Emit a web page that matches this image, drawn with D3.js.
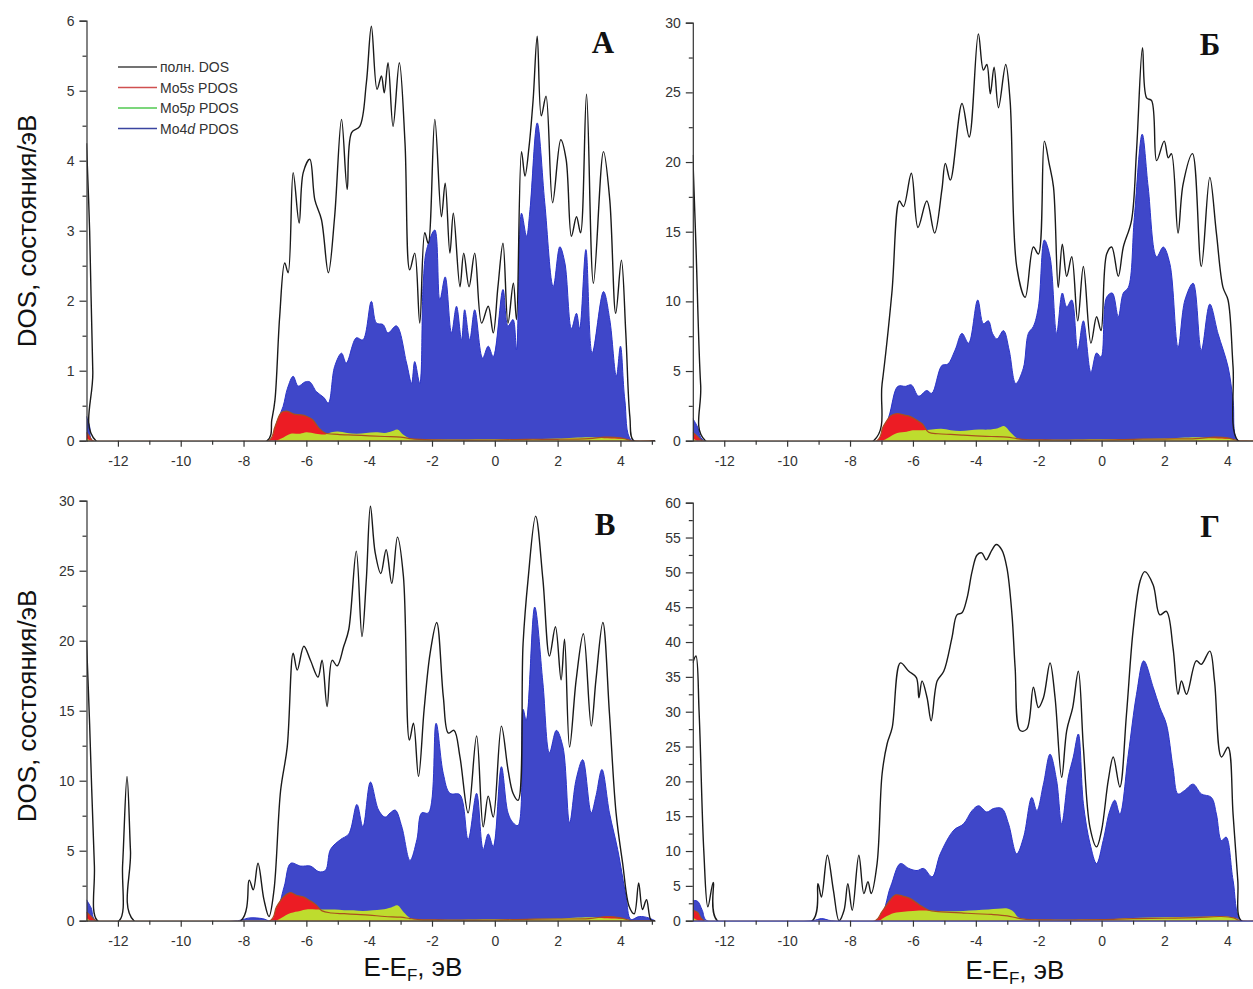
<!DOCTYPE html>
<html>
<head>
<meta charset="utf-8">
<script src="https://cdn.jsdelivr.net/npm/d3@7"></script>
<style>
  body { margin: 0; background: #fff; }
  svg text { font-family: "Liberation Sans", Arial, sans-serif; }
</style>
</head>
<body>
<svg id="chart" width="1253" height="989"></svg>
<script>
// ---- data: [E - E_F (eV), DOS (states/eV)] ----

// panel A
const totalA = [[-13.0,4.25],[-12.9,3.0],[-12.8,1.0],[-12.7,0],[-7.25,0],[-7.1,0.3],[-7.0,0.58],[-6.85,1.77],[-6.69,2.54],[-6.58,2.4],[-6.42,3.83],[-6.23,3.11],[-6.1,3.83],[-5.89,4.02],[-5.73,3.44],[-5.52,3.16],[-5.3,2.4],[-5.1,3.2],[-4.88,4.59],[-4.7,3.59],[-4.56,4.4],[-4.3,4.49],[-4.09,5.11],[-3.93,5.92],[-3.75,5.02],[-3.61,5.21],[-3.52,4.97],[-3.4,5.4],[-3.24,4.49],[-3.04,5.4],[-2.86,4.26],[-2.71,2.44],[-2.55,2.68],[-2.39,1.68],[-2.23,2.97],[-2.12,2.82],[-1.91,4.59],[-1.7,3.2],[-1.58,3.68],[-1.43,2.68],[-1.32,3.25],[-1.11,2.2],[-0.99,2.68],[-0.82,2.2],[-0.64,2.68],[-0.42,1.68],[-0.21,1.92],[-0.05,1.54],[0.1,2.2],[0.26,2.82],[0.42,1.68],[0.59,2.25],[0.69,1.73],[0.85,4.13],[0.96,3.78],[1.09,4.2],[1.22,4.87],[1.35,5.78],[1.48,4.64],[1.63,4.92],[1.84,3.4],[2.1,4.3],[2.27,4.02],[2.44,2.92],[2.6,3.2],[2.73,2.97],[2.92,4.95],[3.14,2.25],[3.46,4.13],[3.66,3.44],[3.85,1.82],[4.03,2.58],[4.17,1.54],[4.3,0.34],[4.42,0],[5.1,0]];
const d4A = [[-13.0,0.35],[-12.9,0.2],[-12.8,0],[-7.15,0],[-6.95,0.25],[-6.74,0.49],[-6.6,0.75],[-6.42,0.92],[-6.26,0.78],[-6.04,0.84],[-5.89,0.84],[-5.68,0.7],[-5.45,0.62],[-5.3,0.54],[-5.1,1.06],[-4.88,1.25],[-4.73,1.11],[-4.41,1.47],[-4.2,1.44],[-3.93,1.99],[-3.77,1.68],[-3.56,1.66],[-3.4,1.54],[-3.13,1.64],[-2.81,1.11],[-2.65,0.82],[-2.55,1.13],[-2.39,0.82],[-2.28,2.25],[-2.17,2.73],[-1.91,3.01],[-1.75,2.01],[-1.58,2.34],[-1.38,1.54],[-1.22,1.92],[-1.06,1.44],[-0.96,1.87],[-0.8,1.44],[-0.64,1.87],[-0.39,1.18],[-0.21,1.35],[-0.05,1.2],[0.26,2.16],[0.42,1.64],[0.58,1.73],[0.69,1.3],[0.85,3.25],[1.01,2.92],[1.12,3.3],[1.35,4.54],[1.59,3.4],[1.86,2.2],[2.07,2.77],[2.23,2.54],[2.44,1.6],[2.6,1.82],[2.7,1.6],[2.9,2.73],[3.1,1.25],[3.46,2.13],[3.66,1.73],[3.87,0.92],[4.0,1.35],[4.14,0.58],[4.36,0],[5.1,0]];
const s5A = [[-13.0,0.12],[-12.9,0.06],[-12.8,0],[-7.2,0],[-7.0,0.2],[-6.8,0.4],[-6.6,0.42],[-6.4,0.38],[-6.2,0.37],[-6.0,0.35],[-5.8,0.3],[-5.6,0.18],[-5.4,0.11],[-5.0,0.09],[-4.5,0.08],[-4.0,0.07],[-3.5,0.06],[-3.0,0.05],[-2.7,0.03],[-2.4,0.02],[-1.5,0.01],[0,0.01],[1,0.02],[2,0.02],[3,0.03],[3.5,0.05],[4.0,0.04],[4.2,0.02],[4.35,0],[5.1,0]];
const p5A = [[-13.0,0.04],[-12.85,0],[-7.0,0],[-6.8,0.03],[-6.5,0.1],[-6.2,0.1],[-6.0,0.12],[-5.7,0.1],[-5.4,0.09],[-5.2,0.12],[-5.0,0.13],[-4.7,0.11],[-4.4,0.1],[-4.1,0.11],[-3.8,0.12],[-3.5,0.11],[-3.3,0.13],[-3.1,0.16],[-2.9,0.08],[-2.7,0.03],[-2.5,0.02],[0,0.02],[1,0.02],[2,0.03],[3,0.05],[3.4,0.04],[4.2,0.02],[4.35,0],[5.1,0]];

// panel Б
const totalB = [[-13.0,20.5],[-12.9,14],[-12.75,4],[-12.6,0],[-7.25,0],[-6.98,4.1],[-6.67,10.6],[-6.43,17.2],[-6.3,16.8],[-6.05,19.2],[-5.84,15.3],[-5.56,17.2],[-5.31,14.9],[-5.08,18.0],[-4.97,19.9],[-4.81,18.7],[-4.44,24.2],[-4.21,21.8],[-3.92,29.2],[-3.76,26.6],[-3.65,27.0],[-3.54,24.9],[-3.42,26.8],[-3.28,23.9],[-3.05,27.0],[-2.91,24.4],[-2.7,12.5],[-2.43,10.3],[-2.17,13.9],[-2.01,13.4],[-1.82,21.5],[-1.67,19.9],[-1.53,18.2],[-1.38,11.0],[-1.25,14.1],[-1.11,11.8],[-0.95,13.2],[-0.76,8.6],[-0.58,12.5],[-0.34,7.0],[-0.16,8.9],[-0.02,7.9],[0.16,13.4],[0.32,13.9],[0.53,11.8],[0.69,13.9],[0.95,15.8],[1.11,20.8],[1.3,28.2],[1.43,24.6],[1.59,24.4],[1.75,20.1],[1.99,21.5],[2.12,20.3],[2.22,20.6],[2.43,14.9],[2.59,18.4],[2.89,20.6],[3.17,12.5],[3.44,18.9],[3.65,14.9],[3.86,11.0],[4.02,10.1],[4.18,5.3],[4.34,0],[5.1,0]];
const d4B = [[-13.0,1.6],[-12.85,1.0],[-12.65,0],[-7.1,0],[-6.77,1.7],[-6.48,3.9],[-6.24,3.9],[-6.05,4.0],[-5.82,3.2],[-5.56,3.6],[-5.4,3.4],[-5.08,5.4],[-4.89,5.5],[-4.66,6.5],[-4.44,7.7],[-4.23,7.0],[-3.94,10.1],[-3.76,8.4],[-3.6,8.6],[-3.47,7.7],[-3.33,7.3],[-3.12,7.9],[-2.94,6.5],[-2.73,4.1],[-2.49,5.2],[-2.33,7.7],[-2.17,8.2],[-2.01,9.6],[-1.82,14.4],[-1.64,13.2],[-1.43,7.7],[-1.25,10.6],[-1.11,9.6],[-0.95,10.1],[-0.76,6.5],[-0.58,8.6],[-0.34,4.9],[-0.16,6.3],[-0.02,6.0],[0.16,10.3],[0.34,10.6],[0.53,8.9],[0.69,10.6],[0.85,11.0],[1.04,16.0],[1.29,22.0],[1.48,18.2],[1.75,13.2],[1.96,13.9],[2.17,12.7],[2.43,6.7],[2.65,10.1],[2.91,11.3],[3.17,6.5],[3.44,9.8],[3.7,7.7],[4.02,5.3],[4.18,2.9],[4.34,0],[5.1,0]];
const s5B = [[-13.0,0.6],[-12.85,0.3],[-12.7,0],[-7.15,0],[-6.95,1.0],[-6.7,1.8],[-6.5,1.95],[-6.3,1.85],[-6.1,1.75],[-5.9,1.5],[-5.7,1.2],[-5.5,0.6],[-5.2,0.5],[-4.8,0.45],[-4.4,0.4],[-4.0,0.35],[-3.5,0.3],[-3.0,0.25],[-2.7,0.15],[-2.4,0.08],[-1.5,0.05],[0,0.05],[1,0.1],[2,0.12],[3,0.15],[3.6,0.25],[4.0,0.2],[4.25,0.05],[4.35,0],[5.1,0]];
const p5B = [[-13.0,0.2],[-12.85,0],[-7.0,0],[-6.8,0.2],[-6.5,0.55],[-6.2,0.65],[-6.0,0.75],[-5.7,0.75],[-5.4,0.8],[-5.1,0.85],[-4.8,0.75],[-4.5,0.7],[-4.2,0.75],[-3.9,0.8],[-3.6,0.8],[-3.3,0.9],[-3.1,1.05],[-2.9,0.6],[-2.7,0.2],[-2.5,0.1],[0,0.1],[1,0.12],[2,0.15],[3,0.25],[3.4,0.2],[4.2,0.1],[4.35,0],[5.1,0]];

// panel В
const totalC = [[-13.0,20.0],[-12.9,14],[-12.75,4],[-12.65,0],[-11.96,0],[-11.85,4],[-11.71,10.3],[-11.6,5],[-11.49,0],[-8.09,0],[-7.82,2.9],[-7.69,2.2],[-7.54,4.1],[-7.35,1.5],[-7.19,0.3],[-7.03,2.2],[-6.82,9.3],[-6.61,12.4],[-6.42,19.1],[-6.29,17.9],[-6.08,19.6],[-5.87,18.6],[-5.63,17.4],[-5.5,18.6],[-5.34,15.3],[-5.18,18.6],[-5.02,18.2],[-4.81,19.6],[-4.65,20.8],[-4.41,26.4],[-4.23,20.3],[-4.09,24.4],[-3.96,29.6],[-3.81,26.3],[-3.63,24.8],[-3.46,26.5],[-3.28,24.1],[-3.1,27.4],[-2.91,24.6],[-2.72,12.9],[-2.59,14.1],[-2.43,10.3],[-2.25,15.1],[-2.06,19.1],[-1.85,21.3],[-1.64,16.0],[-1.48,13.4],[-1.3,13.6],[-1.11,11.7],[-0.85,7.7],[-0.58,13.2],[-0.37,6.7],[-0.21,8.9],[-0.05,7.4],[0.21,13.9],[0.42,10.8],[0.58,9.1],[0.74,8.6],[0.9,19.8],[1.06,24.4],[1.3,28.9],[1.53,24.4],[1.74,18.9],[1.93,21.0],[2.11,17.2],[2.22,20.1],[2.38,12.4],[2.59,17.2],[2.82,20.5],[3.07,13.9],[3.22,17.2],[3.44,21.3],[3.65,14.8],[3.86,7.7],[4.07,4.1],[4.28,1.0],[4.44,0.5],[4.58,2.7],[4.7,0.8],[4.83,1.5],[4.97,0.05],[5.1,0]];
const d4C = [[-13.0,1.5],[-12.85,0.9],[-12.7,0],[-8.2,0],[-7.8,0.2],[-7.4,0.15],[-7.08,0],[-6.71,2.4],[-6.5,4.1],[-6.18,3.9],[-5.87,3.9],[-5.6,3.5],[-5.39,3.6],[-5.23,5.1],[-4.91,5.8],[-4.65,6.2],[-4.39,8.3],[-4.2,6.7],[-3.96,9.9],[-3.7,7.9],[-3.49,7.4],[-3.33,7.7],[-3.17,7.9],[-2.96,6.7],[-2.7,4.3],[-2.48,5.8],[-2.33,7.7],[-2.11,7.7],[-1.87,14.1],[-1.64,10.5],[-1.43,9.1],[-1.11,9.0],[-0.85,5.8],[-0.58,9.1],[-0.37,5.1],[-0.21,6.2],[-0.05,5.3],[0.21,11.0],[0.42,7.7],[0.58,7.0],[0.74,6.8],[0.9,15.1],[1.0,14.3],[1.27,22.4],[1.53,17.0],[1.74,12.0],[1.96,13.6],[2.17,12.4],[2.38,7.0],[2.59,10.1],[2.8,11.5],[3.07,7.7],[3.22,8.9],[3.41,10.8],[3.65,7.7],[3.91,5.1],[4.18,1.7],[4.33,0.1],[4.6,0.3],[4.9,0.2],[5.1,0]];
const s5C = [[-13.0,0.6],[-12.85,0.3],[-12.7,0],[-7.15,0],[-6.95,1.0],[-6.7,1.75],[-6.5,2.0],[-6.3,1.8],[-6.1,1.7],[-5.9,1.45],[-5.7,1.15],[-5.5,0.7],[-5.2,0.55],[-4.8,0.5],[-4.4,0.45],[-4.0,0.4],[-3.5,0.3],[-3.0,0.25],[-2.7,0.15],[-2.4,0.08],[-1.5,0.05],[0,0.05],[1,0.1],[2,0.12],[3,0.15],[3.6,0.3],[4.0,0.2],[4.25,0.05],[4.35,0],[5.1,0]];
const p5C = [[-13.0,0.2],[-12.85,0],[-7.0,0],[-6.8,0.2],[-6.5,0.55],[-6.2,0.7],[-6.0,0.8],[-5.7,0.8],[-5.4,0.8],[-5.1,0.8],[-4.8,0.75],[-4.5,0.75],[-4.2,0.7],[-3.9,0.75],[-3.6,0.8],[-3.3,0.95],[-3.1,1.1],[-2.9,0.6],[-2.7,0.2],[-2.5,0.1],[0,0.1],[1,0.12],[2,0.15],[3,0.25],[3.4,0.2],[4.2,0.1],[4.35,0],[5.1,0]];

// panel Г
const totalD = [[-13.0,37],[-12.9,38],[-12.8,30],[-12.65,10],[-12.52,2],[-12.35,5.5],[-12.22,0],[-9.2,0],[-9.02,5.3],[-8.91,3.4],[-8.72,9.4],[-8.53,4.4],[-8.35,0],[-8.19,1.5],[-8.07,5.3],[-7.93,1.5],[-7.72,9.4],[-7.56,3.9],[-7.43,5.6],[-7.33,3.9],[-7.14,8.2],[-6.98,21.1],[-6.82,25.4],[-6.66,27.7],[-6.4,37.0],[-6.13,35.8],[-5.89,34.9],[-5.81,32.0],[-5.71,34.4],[-5.55,32.0],[-5.42,28.7],[-5.23,34.4],[-5.02,35.8],[-4.76,40.6],[-4.6,43.9],[-4.44,44.2],[-4.28,46.3],[-4.12,50.1],[-3.96,52.5],[-3.81,52.8],[-3.67,51.8],[-3.49,53.2],[-3.35,54.0],[-3.17,53.2],[-3.01,50.6],[-2.85,43.9],[-2.75,36.3],[-2.59,27.3],[-2.38,27.5],[-2.17,33.5],[-2.01,30.6],[-1.85,32.0],[-1.64,37.0],[-1.48,32.0],[-1.27,20.6],[-1.11,27.3],[-0.92,30.6],[-0.74,35.8],[-0.58,24.9],[-0.37,13.4],[-0.16,10.6],[0,13.0],[0.21,20.1],[0.37,23.5],[0.58,19.2],[0.79,29.6],[1.0,41.6],[1.22,48.7],[1.37,50.1],[1.64,48.2],[1.85,43.9],[2.06,44.4],[2.27,39.2],[2.43,32.5],[2.54,34.4],[2.7,32.5],[3.01,37.3],[3.17,36.8],[3.44,38.7],[3.59,34.4],[3.81,23.5],[4.02,24.9],[4.18,15.3],[4.33,5.8],[4.44,0],[5.1,0]];
const d4D = [[-13.0,2.9],[-12.85,2.8],[-12.7,1.5],[-12.55,0],[-9.2,0],[-8.9,0.3],[-8.6,0],[-7.14,0],[-6.71,4.9],[-6.4,8.2],[-6.13,7.5],[-5.87,7.2],[-5.66,7.5],[-5.39,6.3],[-5.13,9.6],[-4.7,13.0],[-4.39,13.9],[-4.12,15.8],[-3.91,16.5],[-3.65,15.6],[-3.44,16.1],[-3.17,16.1],[-2.96,13.9],[-2.7,9.6],[-2.48,12.0],[-2.22,17.7],[-2.06,15.8],[-1.85,19.6],[-1.64,23.9],[-1.43,20.1],[-1.27,13.9],[-1.06,20.6],[-0.9,23.5],[-0.74,26.8],[-0.58,16.8],[-0.37,11.1],[-0.16,8.2],[0.05,11.5],[0.26,15.8],[0.42,17.3],[0.58,15.3],[0.85,23.9],[1.11,32.5],[1.34,37.3],[1.64,33.5],[1.85,30.6],[2.06,28.2],[2.27,22.0],[2.43,18.2],[2.64,18.7],[2.91,19.6],[3.17,18.2],[3.49,17.7],[3.65,15.3],[3.81,11.5],[3.96,12.0],[4.18,5.8],[4.44,0],[5.1,0]];
const s5D = [[-13.0,1.5],[-12.85,1.2],[-12.65,0],[-7.2,0],[-7.0,1.2],[-6.8,2.5],[-6.55,3.7],[-6.3,3.5],[-6.1,3.2],[-5.8,2.3],[-5.5,1.5],[-5.2,1.3],[-4.8,1.2],[-4.4,1.1],[-4.0,1.0],[-3.5,0.9],[-3.0,0.7],[-2.7,0.4],[-2.4,0.2],[-1.5,0.1],[0,0.15],[1,0.3],[2,0.35],[3,0.45],[3.8,0.6],[4.2,0.4],[4.4,0],[5.1,0]];
const p5D = [[-13.0,0.5],[-12.8,0],[-7.1,0],[-6.9,0.5],[-6.6,1.1],[-6.3,1.3],[-6.0,1.4],[-5.6,1.45],[-5.2,1.4],[-4.8,1.35],[-4.4,1.4],[-4.0,1.5],[-3.6,1.6],[-3.3,1.7],[-3.0,1.75],[-2.8,1.3],[-2.65,0.5],[-2.4,0.25],[0,0.2],[1,0.4],[2,0.5],[3,0.55],[4,0.6],[4.3,0.3],[4.45,0],[5.1,0]];

const xMajor = [-12, -10, -8, -6, -4, -2, 0, 2, 4];
const xMinor = [-11, -9, -7, -5, -3, -1, 1, 3, 5];
const legendNames = [["полн. DOS", ""], ["Mo5", "s"], ["Mo5", "p"], ["Mo4", "d"]];

// colours
const cTotal = "#1a1a1a", cD = "#3f47c9", cS = "#ec1c24", cP = "#bedc2e", cSLine = "#a8501e";

const panels = [
  { letter: "А", total: totalA, d4: d4A, s5: s5A, p5: p5A, yMax: 6, yStep: 1,
    left: 86.5, right: 655, top: 20.7, bottom: 440.7, lx: 603, ly: 53 },
  { letter: "Б", total: totalB, d4: d4B, s5: s5B, p5: p5B, yMax: 30, yStep: 5,
    left: 692.8, right: 1262, top: 22.7, bottom: 440.7, lx: 1210, ly: 55 },
  { letter: "В", total: totalC, d4: d4C, s5: s5C, p5: p5C, yMax: 30, yStep: 5,
    left: 86.5, right: 655, top: 500.7, bottom: 920.7, lx: 605, ly: 535 },
  { letter: "Г", total: totalD, d4: d4D, s5: s5D, p5: p5D, yMax: 60, yStep: 5,
    left: 692.8, right: 1262, top: 502.7, bottom: 920.7, lx: 1210, ly: 537 },
];

const svg = d3.select("#chart");
const defs = svg.append("defs");
const curve = d3.curveCatmullRom.alpha(0.5);

panels.forEach(function (p, i) {
  const x = d3.scaleLinear().domain([-13, 5.1]).range([p.left, p.right]);
  const y = d3.scaleLinear().domain([0, p.yMax]).range([p.bottom, p.top]);

  defs.append("clipPath").attr("id", "clip" + i)
    .append("rect")
    .attr("x", p.left).attr("y", p.top - 10)
    .attr("width", p.right - p.left).attr("height", p.bottom - p.top + 10);

  const g = svg.append("g").attr("clip-path", `url(#clip${i})`);

  const area = d3.area()
    .x((d) => x(d[0])).y0(y(0)).y1((d) => y(Math.max(0, d[1])))
    .curve(curve);
  const line = d3.line()
    .x((d) => x(d[0])).y((d) => y(d[1]))
    .curve(curve);

  // Mo4d fill
  g.append("path").datum(p.d4).attr("d", area).attr("fill", cD);
  g.append("path").datum(p.d4).attr("d", line)
    .attr("fill", "none").attr("stroke", "#2a34c8").attr("stroke-width", 1);
  // Mo5s fill
  g.append("path").datum(p.s5).attr("d", area).attr("fill", cS);
  // Mo5p fill
  g.append("path").datum(p.p5).attr("d", area).attr("fill", cP);
  // Mo5s line on top
  g.append("path").datum(p.s5).attr("d", line)
    .attr("fill", "none").attr("stroke", cSLine).attr("stroke-width", 1.2);
  // total DOS
  g.append("path").datum(p.total).attr("d", line)
    .attr("fill", "none").attr("stroke", cTotal).attr("stroke-width", 1.4);

  // y axis
  const yMajor = d3.range(0, p.yMax + 0.001, p.yStep);
  const yMinor = d3.range(p.yStep / 2, p.yMax, p.yStep);
  svg.append("g").attr("transform", `translate(${p.left},0)`)
    .call(d3.axisLeft(y).tickValues(yMajor).tickSize(7).tickPadding(5).tickFormat((d) => String(d)));
  svg.append("g").attr("transform", `translate(${p.left},0)`)
    .call(d3.axisLeft(y).tickValues(yMinor).tickSize(4).tickFormat(""))
    .select(".domain").remove();

  // x axis
  const xAx = svg.append("g").attr("transform", `translate(0,${p.bottom})`)
    .call(d3.axisBottom(x).tickValues(xMajor).tickSize(6).tickPadding(9).tickSizeOuter(0)
      .tickFormat((d) => String(d)));
  svg.append("g").attr("transform", `translate(0,${p.bottom})`)
    .call(d3.axisBottom(x).tickValues(xMinor).tickSize(4).tickFormat(""))
    .select(".domain").remove();

  svg.selectAll(".tick text").attr("font-size", 14).attr("fill", "#333")
    .style("font-family", "'Liberation Sans', Arial, sans-serif");
  svg.selectAll(".domain, .tick line").attr("stroke", "#333").attr("stroke-width", 1.2);
  xAx.select(".domain").attr("stroke", "#2d3590");

  // panel letter
  svg.append("text").attr("x", p.lx).attr("y", p.ly)
    .attr("text-anchor", "middle")
    .style("font-family", "'Liberation Serif', 'Times New Roman', serif")
    .attr("font-weight", "bold").attr("font-size", 31).attr("fill", "#111")
    .text(p.letter);
});

// y-axis titles
[231, 706].forEach(function (cy) {
  svg.append("text")
    .attr("transform", `translate(36,${cy}) rotate(-90)`)
    .attr("text-anchor", "middle").attr("font-size", 26).attr("fill", "#111")
    .text("DOS, состояния/эВ");
});

// x-axis titles
[[413, 976], [1015, 979]].forEach(function (pos) {
  const t = svg.append("text").attr("x", pos[0]).attr("y", pos[1])
    .attr("text-anchor", "middle").attr("font-size", 26).attr("fill", "#111");
  t.append("tspan").text("E-E");
  t.append("tspan").attr("font-size", 17).attr("dy", 5).text("F");
  t.append("tspan").attr("dy", -5).text(", эВ");
});

// legend (panel A)
const legColors = ["#444", "#d05050", "#50c850", "#3a44a0"];
legendNames.forEach(function (n, i) {
  const ly = 67 + i * 20.5;
  svg.append("line").attr("x1", 118).attr("x2", 157).attr("y1", ly).attr("y2", ly)
    .attr("stroke", legColors[i]).attr("stroke-width", 1.5);
  const t = svg.append("text").attr("x", 160).attr("y", ly + 5)
    .attr("font-size", 14).attr("fill", "#333");
  t.append("tspan").text(n[0]);
  if (n[1]) {
    t.append("tspan").attr("font-style", "italic").text(n[1]);
    t.append("tspan").text(" PDOS");
  }
});
</script>
</body>
</html>
